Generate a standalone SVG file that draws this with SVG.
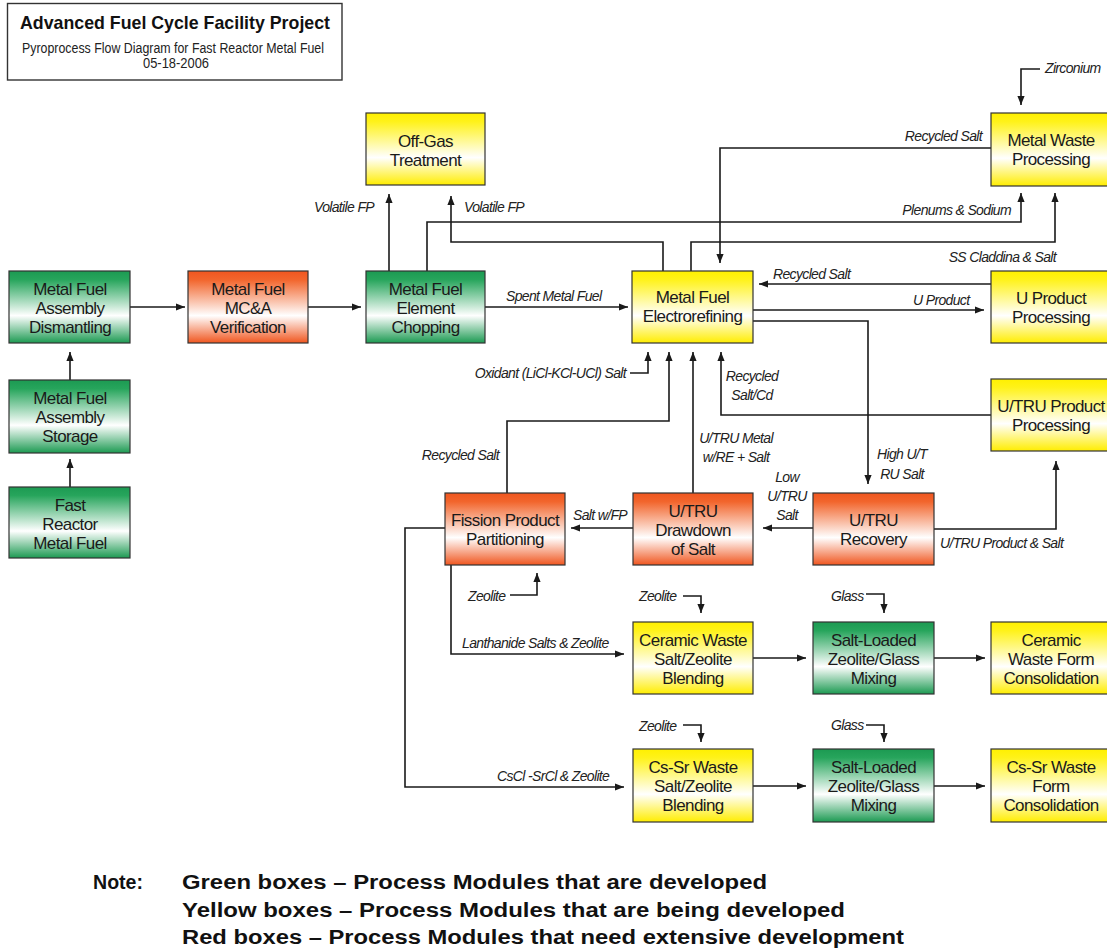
<svg xmlns="http://www.w3.org/2000/svg" width="1107" height="949" viewBox="0 0 1107 949">
<defs>
<linearGradient id="gG" x1="0" y1="0" x2="0" y2="1">
<stop offset="0" stop-color="#1c9a52"/><stop offset="0.12" stop-color="#27a55c"/><stop offset="0.62" stop-color="#ffffff"/><stop offset="1" stop-color="#1c9a52"/>
</linearGradient>
<linearGradient id="gY" x1="0" y1="0" x2="0" y2="1">
<stop offset="0" stop-color="#fff000"/><stop offset="0.12" stop-color="#fff21a"/><stop offset="0.62" stop-color="#ffffff"/><stop offset="1" stop-color="#ffed00"/>
</linearGradient>
<linearGradient id="gR" x1="0" y1="0" x2="0" y2="1">
<stop offset="0" stop-color="#f0561f"/><stop offset="0.12" stop-color="#f2652c"/><stop offset="0.62" stop-color="#ffffff"/><stop offset="1" stop-color="#f0561f"/>
</linearGradient>
<marker id="arr" viewBox="0 0 10 8" refX="10" refY="4" markerWidth="9" markerHeight="7.5" markerUnits="userSpaceOnUse" orient="auto">
<path d="M0,0 L10,4 L0,8 z" fill="#1a1a1a"/>
</marker>
</defs>
<style>
.box{stroke:#333;stroke-width:1.2}
.g{fill:url(#gG)}
.y{fill:url(#gY)}
.r{fill:url(#gR)}
.bt{font-family:"Liberation Sans",Arial,sans-serif;font-size:17px;letter-spacing:-0.6px;fill:#1a1a1a;text-anchor:middle}
.lb{font-family:"Liberation Sans",Arial,sans-serif;font-size:14px;font-style:italic;letter-spacing:-0.65px;fill:#222}
.c{text-anchor:middle}
.e{text-anchor:end}
.cn path{fill:none;stroke:#1a1a1a;stroke-width:1.6}
.ar{marker-end:url(#arr)}
.note{font-family:"Liberation Sans",Arial,sans-serif;font-size:20px;font-weight:bold;fill:#111}
</style>
<rect width="1107" height="949" fill="#ffffff"/>

<g id="title">
<rect x="7.5" y="3.5" width="334.5" height="76.5" fill="#fff" stroke="#333" stroke-width="1.4"/>
<text x="175" y="29" text-anchor="middle" font-family="Liberation Sans, Arial, sans-serif" font-size="19" font-weight="bold" fill="#111" textLength="310" lengthAdjust="spacingAndGlyphs">Advanced Fuel Cycle Facility Project</text>
<text x="173" y="53" text-anchor="middle" font-family="Liberation Sans, Arial, sans-serif" font-size="14" fill="#222" textLength="302" lengthAdjust="spacingAndGlyphs">Pyroprocess Flow Diagram for Fast Reactor Metal Fuel</text>
<text x="176" y="68" text-anchor="middle" font-family="Liberation Sans, Arial, sans-serif" font-size="14" fill="#222" textLength="66" lengthAdjust="spacingAndGlyphs">05-18-2006</text>
</g>

<g id="connectors" class="cn">
<path class="ar" d="M130,307 H185"/>
<path class="ar" d="M308,307 H361"/>
<path class="ar" d="M485,307 H628"/>
<path class="ar" d="M70,380 V352"/>
<path class="ar" d="M70,487 V459"/>
<path class="ar" d="M389,271 V194"/>
<path class="ar" d="M663,271 V242 H451 V196"/>
<path class="ar" d="M427,271 V222 H1021 V193"/>
<path class="ar" d="M691,271 V242 H1055 V193"/>
<path class="ar" d="M991,148 H720 V263"/>
<path class="ar" d="M1040,69 H1021 V105"/>
<path class="ar" d="M991,284 H759"/>
<path class="ar" d="M753,310 H984"/>
<path class="ar" d="M753,321 H868 V484"/>
<path class="ar" d="M991,415 H721 V352"/>
<path class="ar" d="M630,373 H648 V352"/>
<path class="ar" d="M507,493 V421 H669 V352"/>
<path class="ar" d="M693,493 V352"/>
<path class="ar" d="M813,528 H763"/>
<path class="ar" d="M633,528 H571"/>
<path class="ar" d="M934,529 H1056 V461"/>
<path class="ar" d="M510,595 H537 V573"/>
<path class="ar" d="M451,565 V654 H624"/>
<path class="ar" d="M445,528 H405 V787 H624"/>
<path class="ar" d="M683,596 H701 V613"/>
<path class="ar" d="M683,725 H701 V742"/>
<path class="ar" d="M866,594 H884 V613"/>
<path class="ar" d="M866,725 H884 V742"/>
<path class="ar" d="M753,658 H806"/>
<path class="ar" d="M934,658 H985"/>
<path class="ar" d="M753,786 H806"/>
<path class="ar" d="M934,786 H985"/>
</g>

<g id="labels" class="lb">
<text class="lb e" x="374" y="212">Volatile FP</text>
<text class="lb" x="464" y="212">Volatile FP</text>
<text class="lb" x="506" y="301">Spent Metal Fuel</text>
<text class="lb e" x="982" y="141">Recycled Salt</text>
<text class="lb e" x="1011" y="215">Plenums &amp; Sodium</text>
<text class="lb e" x="1056" y="262">SS Claddina &amp; Salt</text>
<text class="lb" x="1045" y="73">Zirconium</text>
<text class="lb" x="773" y="279">Recycled Salt</text>
<text class="lb" x="913" y="305">U Product</text>
<text class="lb e" x="626" y="378">Oxidant (LiCl-KCl-UCl) Salt</text>
<text class="lb c" x="752" y="381">Recycled</text>
<text class="lb c" x="752" y="400">Salt/Cd</text>
<text class="lb e" x="499" y="460">Recycled Salt</text>
<text class="lb c" x="736" y="443">U/TRU Metal</text>
<text class="lb c" x="736" y="462">w/RE + Salt</text>
<text class="lb c" x="787" y="482">Low</text>
<text class="lb c" x="787" y="501">U/TRU</text>
<text class="lb c" x="787" y="520">Salt</text>
<text class="lb" x="573" y="520">Salt w/FP</text>
<text class="lb c" x="902" y="459">High U/T</text>
<text class="lb c" x="902" y="479">RU Salt</text>
<text class="lb" x="940" y="548">U/TRU Product &amp; Salt</text>
<text class="lb" x="468" y="601">Zeolite</text>
<text class="lb" x="462" y="648">Lanthanide Salts &amp; Zeolite</text>
<text class="lb" x="639" y="601">Zeolite</text>
<text class="lb" x="639" y="731">Zeolite</text>
<text class="lb" x="497" y="781">CsCl -SrCl &amp; Zeolite</text>
<text class="lb" x="831" y="601">Glass</text>
<text class="lb" x="831" y="730">Glass</text>
</g>

<g id="n_dismantle"><rect class="box g" x="9" y="271" width="121" height="72"/>
<text class="bt" x="70" y="295">Metal Fuel</text><text class="bt" x="70" y="314">Assembly</text><text class="bt" x="70" y="333">Dismantling</text></g>
<g id="n_storage"><rect class="box g" x="9" y="380" width="121" height="73"/>
<text class="bt" x="70" y="404">Metal Fuel</text><text class="bt" x="70" y="423">Assembly</text><text class="bt" x="70" y="442">Storage</text></g>
<g id="n_reactor"><rect class="box g" x="9" y="487" width="121" height="71"/>
<text class="bt" x="70" y="511">Fast</text><text class="bt" x="70" y="530">Reactor</text><text class="bt" x="70" y="549">Metal Fuel</text></g>
<g id="n_mca"><rect class="box r" x="188" y="271" width="120" height="72"/>
<text class="bt" x="248" y="295">Metal Fuel</text><text class="bt" x="248" y="314">MC&amp;A</text><text class="bt" x="248" y="333">Verification</text></g>
<g id="n_chop"><rect class="box g" x="366" y="271" width="119" height="72"/>
<text class="bt" x="425.5" y="295">Metal Fuel</text><text class="bt" x="425.5" y="314">Element</text><text class="bt" x="425.5" y="333">Chopping</text></g>
<g id="n_offgas"><rect class="box y" x="366" y="113" width="119" height="72"/>
<text class="bt" x="425.5" y="147">Off-Gas</text><text class="bt" x="425.5" y="166">Treatment</text></g>
<g id="n_er"><rect class="box y" x="632" y="271" width="121" height="72"/>
<text class="bt" x="692.5" y="303">Metal Fuel</text><text class="bt" x="692.5" y="322">Electrorefining</text></g>
<g id="n_mwp"><rect class="box y" x="991" y="113" width="125" height="73"/>
<text class="bt" x="1051" y="146">Metal Waste</text><text class="bt" x="1051" y="165">Processing</text></g>
<g id="n_upp"><rect class="box y" x="991" y="271" width="125" height="72"/>
<text class="bt" x="1051" y="304">U Product</text><text class="bt" x="1051" y="323">Processing</text></g>
<g id="n_utrup"><rect class="box y" x="991" y="379" width="125" height="72"/>
<text class="bt" x="1051" y="412">U/TRU Product</text><text class="bt" x="1051" y="431">Processing</text></g>
<g id="n_fpp"><rect class="box r" x="445" y="493" width="120" height="72"/>
<text class="bt" x="505" y="526">Fission Product</text><text class="bt" x="505" y="545">Partitioning</text></g>
<g id="n_draw"><rect class="box r" x="633" y="493" width="120" height="72"/>
<text class="bt" x="693" y="517">U/TRU</text><text class="bt" x="693" y="536">Drawdown</text><text class="bt" x="693" y="555">of Salt</text></g>
<g id="n_rec"><rect class="box r" x="813" y="493" width="121" height="72"/>
<text class="bt" x="873.5" y="526">U/TRU</text><text class="bt" x="873.5" y="545">Recovery</text></g>
<g id="n_ceb"><rect class="box y" x="633" y="622" width="120" height="72"/>
<text class="bt" x="693" y="646">Ceramic Waste</text><text class="bt" x="693" y="665">Salt/Zeolite</text><text class="bt" x="693" y="684">Blending</text></g>
<g id="n_slz1"><rect class="box g" x="813" y="622" width="121" height="72"/>
<text class="bt" x="873.5" y="646">Salt-Loaded</text><text class="bt" x="873.5" y="665">Zeolite/Glass</text><text class="bt" x="873.5" y="684">Mixing</text></g>
<g id="n_cwf"><rect class="box y" x="991" y="622" width="125" height="72"/>
<text class="bt" x="1051" y="646">Ceramic</text><text class="bt" x="1051" y="665">Waste Form</text><text class="bt" x="1051" y="684">Consolidation</text></g>
<g id="n_csb"><rect class="box y" x="633" y="749" width="120" height="73"/>
<text class="bt" x="693" y="773">Cs-Sr Waste</text><text class="bt" x="693" y="792">Salt/Zeolite</text><text class="bt" x="693" y="811">Blending</text></g>
<g id="n_slz2"><rect class="box g" x="813" y="749" width="121" height="73"/>
<text class="bt" x="873.5" y="773">Salt-Loaded</text><text class="bt" x="873.5" y="792">Zeolite/Glass</text><text class="bt" x="873.5" y="811">Mixing</text></g>
<g id="n_cswf"><rect class="box y" x="991" y="749" width="125" height="73"/>
<text class="bt" x="1051" y="773">Cs-Sr Waste</text><text class="bt" x="1051" y="792">Form</text><text class="bt" x="1051" y="811">Consolidation</text></g>

<g id="note" class="note">
<text x="93" y="889" textLength="50" lengthAdjust="spacingAndGlyphs">Note:</text>
<text x="182" y="889" textLength="585" lengthAdjust="spacingAndGlyphs">Green boxes – Process Modules that are developed</text>
<text x="182" y="917" textLength="663" lengthAdjust="spacingAndGlyphs">Yellow boxes – Process Modules that are being developed</text>
<text x="182" y="944" textLength="722" lengthAdjust="spacingAndGlyphs">Red boxes – Process Modules that need extensive development</text>
</g>
</svg>
